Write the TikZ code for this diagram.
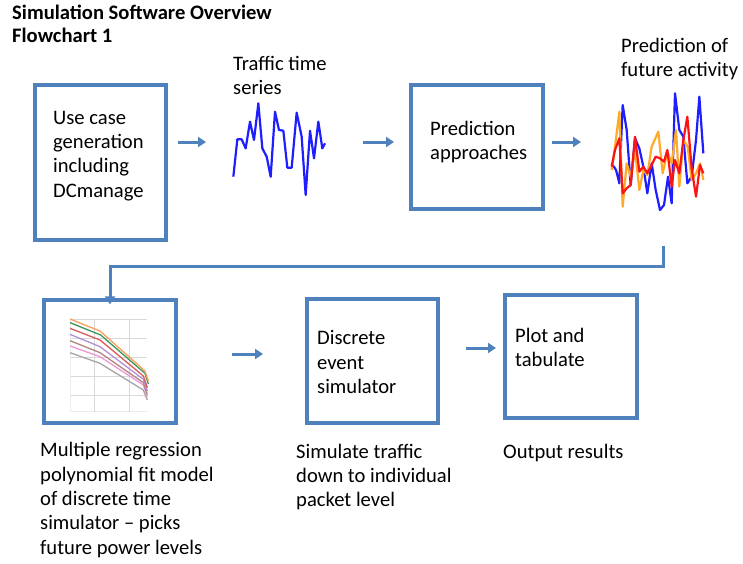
\documentclass[tikz,border=0pt]{standalone}
\usepackage{fontspec}
\setmainfont{Carlito}
\usetikzlibrary{arrows.meta,shadows}
\definecolor{boxblue}{RGB}{79,129,189}
\definecolor{wblue}{RGB}{30,30,255}
\definecolor{worange}{RGB}{255,170,40}
\definecolor{wred}{RGB}{250,20,20}
\definecolor{rgorange}{RGB}{250,160,90}
\definecolor{rggreen}{RGB}{60,150,90}
\definecolor{rgred}{RGB}{220,90,90}
\definecolor{rgpurple}{RGB}{175,145,215}
\definecolor{rgbrown}{RGB}{175,135,125}
\definecolor{rgpink}{RGB}{240,150,215}
\definecolor{rggray}{RGB}{165,165,165}
\tikzset{
  flowbox/.style={draw=boxblue, line width=3.3pt, fill=white, inner sep=0pt,
    drop shadow={opacity=0.25, shadow xshift=1pt, shadow yshift=-1.5pt}},
  txt/.style={anchor=base west, inner sep=0pt, align=left,
    font=\fontsize{20.6}{24.3}\selectfont},
  ttl/.style={anchor=base west, inner sep=0pt, align=left,
    font=\fontsize{20.6}{23}\selectfont\bfseries},
  arr/.style={draw=boxblue, line width=3pt, -{Triangle[length=8pt,width=10pt]}},
  elbow/.style={draw=boxblue, line width=3pt, -{Triangle[length=8pt,width=10pt]}},
  wave/.style={line width=2.2pt, line join=round},
  rgline/.style={line width=1.3pt, line join=round},
  grid/.style={draw=black!15, line width=0.8pt}
}
\begin{document}
\begin{tikzpicture}[x=1pt,y=-1pt]
\useasboundingbox (0,0) rectangle (743,563);

% title (anchor = baseline of last line)
\node[ttl] (title) at (12,42) {Simulation Software Overview\\Flowchart 1};

% boxes
\node[flowbox, minimum width=131pt, minimum height=155pt] (b1) at (100.5,162.5) {};
\node[flowbox, minimum width=132pt, minimum height=124pt] (b2) at (477,147) {};
\node[flowbox, minimum width=132pt, minimum height=123pt] (b3) at (110,361.5) {};
\node[flowbox, minimum width=131pt, minimum height=124pt] (b4) at (372.5,361) {};
\node[flowbox, minimum width=132pt, minimum height=123pt] (b5) at (571,356.5) {};

% box texts (anchor = baseline of last line)
\node[txt] (t1) at (53,197) {Use case\\generation\\including\\DCmanage};
\node[txt] (t2) at (430,159.5) {Prediction\\approaches};
\node[txt] (t4) at (317,393.5) {Discrete\\event\\simulator};
\node[txt] (t5) at (515,366.5) {Plot and\\tabulate};

% free texts
\node[txt] (ttraffic) at (233,94.3) {Traffic time\\series};
\node[txt] (tpred) at (621,76.3) {Prediction of\\future activity};
\node[txt] (tmulti) at (40,554) {Multiple regression\\polynomial fit model\\of discrete time\\simulator -- picks\\future power levels};
\node[txt] (tsim) at (296,506.6) {Simulate traffic\\down to individual\\packet level};
\node[txt] (tout) at (503,458) {Output results};

% traffic time series
\begin{scope}[shift={(200,40)}, x=0.33333pt, y=-0.33333pt]
\draw[wave, wblue] (100,410)--(112,298)--(125,298)--(137,325)--(150,245)--(162,300)--(175,190)--(187,325)--(200,350)--(212,410)--(225,215)--(237,270)--(250,272)--(262,383)--(275,383)--(290,218)--(305,290)--(317,465)--(330,272)--(342,355)--(355,245)--(367,325)--(375,310);
\end{scope}

% prediction chart
\begin{scope}[shift={(590,30)}, x=0.33333pt, y=-0.33333pt]
\draw[wave, wblue] (65,400)--(78,420)--(88,460)--(98,225)--(110,300)--(122,465)--(135,325)--(148,355)--(160,410)--(172,490)--(185,400)--(197,480)--(210,540)--(222,525)--(234,440)--(245,520)--(255,190)--(268,300)--(280,320)--(292,460)--(305,440)--(318,330)--(328,200)--(340,370);
\draw[wave, worange] (65,420)--(75,350)--(88,245)--(98,530)--(110,400)--(122,440)--(135,360)--(148,480)--(160,420)--(172,435)--(185,350)--(205,305)--(218,430)--(232,365)--(245,400)--(258,300)--(268,470)--(280,330)--(293,350)--(305,450)--(318,430)--(330,400)--(340,450);
\draw[wave, wred] (65,410)--(75,360)--(88,325)--(98,490)--(110,475)--(122,465)--(135,320)--(148,425)--(160,410)--(172,430)--(185,405)--(197,380)--(210,385)--(222,395)--(232,360)--(245,470)--(255,390)--(268,430)--(280,330)--(292,260)--(305,415)--(318,500)--(330,405)--(340,430);
\end{scope}

% regression chart in box 3
\begin{scope}[shift={(30,260)}, x=0.33333pt, y=-0.33333pt]
\foreach \yy in {178,235,293,350,407} \draw[grid] (120,\yy) -- (352,\yy);
\draw[draw=black!7, line width=0.8pt] (120,455) -- (352,455);
\draw[draw=black!7, line width=0.8pt] (120,178) -- (120,455);
\foreach \xx in {193,297} \draw[grid] (\xx,178) -- (\xx,455);
\draw[rgline, rggray]   (120,278)--(210,310)--(340,390)--(352,420);
\draw[rgline, rgpink]   (120,258)--(210,290)--(340,375)--(352,410);
\draw[rgline, rgbrown]  (120,242)--(210,278)--(340,368)--(352,403);
\draw[rgline, rgpurple] (120,223)--(210,260)--(340,358)--(352,393);
\draw[rgline, rgred]    (120,205)--(210,240)--(340,348)--(352,383);
\draw[rgline, rggreen]  (120,188)--(212,225)--(345,340)--(355,372);
\draw[rgline, rgorange] (120,177)--(210,213)--(345,333)--(355,363);
\end{scope}

% arrow coordinates
\coordinate (a1s) at (178,142);  \coordinate (a1e) at (206,142);
\coordinate (a2s) at (363,142);  \coordinate (a2e) at (394,142);
\coordinate (a3s) at (552,142);  \coordinate (a3e) at (581,142);
\coordinate (a4s) at (232,354);  \coordinate (a4e) at (263,354);
\coordinate (a5s) at (466,348);  \coordinate (a5e) at (496,348);
\coordinate (elbs) at (663,246);

\draw[arr] (a1s) -- (a1e);
\draw[arr] (a2s) -- (a2e);
\draw[arr] (a3s) -- (a3e);
\draw[arr] (a4s) -- (a4e);
\draw[arr] (a5s) -- (a5e);
\draw[elbow] (elbs) -- (663,266) -| ([yshift=-6pt]b3.north);
\end{tikzpicture}
\end{document}
